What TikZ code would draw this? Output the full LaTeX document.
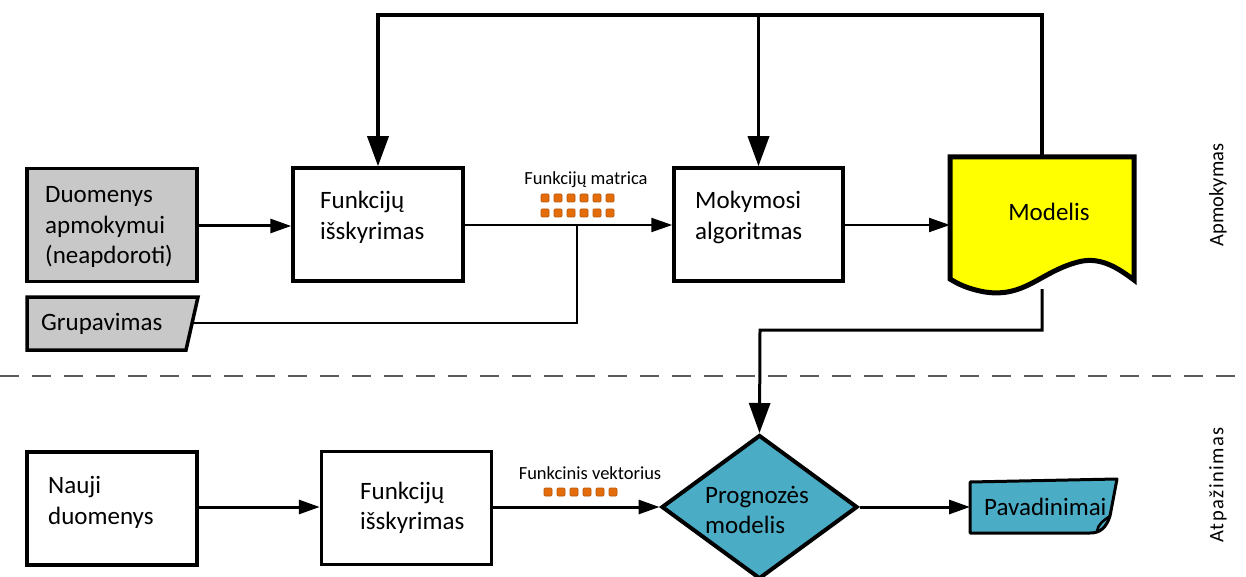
\documentclass[tikz,border=0pt]{standalone}
\usepackage{fontspec}
\setmainfont{Carlito}
\usetikzlibrary{arrows.meta,shapes.geometric}

\definecolor{boxgray}{HTML}{C8C8C8}
\definecolor{modelyellow}{HTML}{FFFF00}
\definecolor{predblue}{HTML}{4BACC6}
\definecolor{dotorange}{HTML}{E46C0A}
\definecolor{dotedge}{HTML}{B65708}
\definecolor{sepgray}{HTML}{5A5A5A}

\tikzset{
  box/.style={draw=black, line width=3.5pt, fill=white, minimum width=170pt, minimum height=113pt, inner sep=0pt},
  graybox/.style={box, fill=boxgray},
  txt/.style={anchor=west, align=left, inner sep=0pt, font=\fontsize{25}{30.5}\selectfont},
  smalltxt/.style={inner sep=0pt, font=\fontsize{18.5}{21}\selectfont},
  sidetxt/.style={inner sep=0pt, rotate=90, font=\fontsize{20.5}{24}\selectfont},
  thickline/.style={line width=3pt},
  thinline/.style={line width=2pt},
  bigtip/.style={-{Triangle[length=30pt,width=21pt]}},
  midtip/.style={-{Triangle[length=21pt,width=14pt]}},
  dot/.style={fill=dotorange, draw=dotedge, line width=0.6pt, rounded corners=1pt}
}

\begin{document}
\begin{tikzpicture}[x=1pt,y=-1pt]
\useasboundingbox (0,0) rectangle (1246,577);

% ---------------- training part ----------------
\node[graybox] (raw) at (112,225) {};
\node[txt] (rawtxt) at (45,227) {Duomenys\\apmokymui\\(neapdoroti)};

\node[box] (fx1) at (378,224.5) {};
\node[txt] (fx1txt) at (320,217.5) {Funkcijų\\išskyrimas};

\node[box, minimum width=169pt] (alg) at (758.5,224.5) {};
\node[txt] (algtxt) at (695,217.5) {Mokymosi\\algoritmas};

% grouping input (slanted right edge)
\draw[line width=3.5pt, fill=boxgray]
  (27,297) -- (198,297) -- (186,350) -- (27,350) -- cycle;
\node[txt] (grp) at (41,324) {Grupavimas};
\coordinate (grpR) at (192,323);

% model document shape
\draw[line width=5pt, fill=modelyellow, line join=miter]
  (950,157) -- (1134,157) -- (1134,280)
  .. controls (1118,268) and (1100,256) .. (1078,262)
  .. controls (1040,272) and (1025,298) .. (985,292)
  .. controls (968,289) and (958,284) .. (950,279) -- cycle;
\node[inner sep=0pt, font=\fontsize{25}{30}\selectfont] (model) at (1049,212) {Modelis};
\coordinate (mtop) at (1042,157);
\coordinate (mbot) at (1042,289);
\coordinate (mleft) at (950,225);

% feature matrix label and dots
\node[smalltxt] (fmlab) at (586,180) {Funkcijų matrica};
\foreach \i in {0,...,5}{
  \foreach \r in {198,213}{
    \filldraw[dot] ({545+13*\i-4},{\r-4}) rectangle ++(8,8);
  }
}

% connectors in the training part
\draw[thickline, midtip] (raw.east |- 0,226) -- (fx1.west |- 0,226);
\draw[thinline, midtip] (fx1.east |- 0,225) -- (alg.west |- 0,225);
\coordinate (join) at (577,225);
\draw[line width=2.5pt] (grpR) -| (join);
\draw[thinline, midtip] (alg.east |- 0,225) -- (mleft);

\coordinate (topbar) at (1042,15);
\draw[line width=3.5pt, bigtip] (mtop) -- (topbar) -| (fx1.north);
\draw[line width=3.5pt, bigtip] (alg.north |- topbar) -- (alg.north);

% separator between the two phases
\draw[sepgray, line width=2.5pt, dash pattern=on 19pt off 13pt] (0,376) -- (1246,376);
\node[sidetxt] (train) at (1218,195) {Apmokymas};
\node[sidetxt] (recog) at (1218,485) {\addfontfeature{LetterSpace=7}Atpažinimas};

% ---------------- recognition part ----------------
\node[box, line width=4pt] (new) at (112,508.5) {};
\node[txt] (newtxt) at (48,502.5) {Nauji\\duomenys};

\node[box] (fx2) at (406.5,508) {};
\node[txt] (fx2txt) at (360,508) {Funkcijų\\išskyrimas};

\node[diamond, draw=black, line width=4pt, fill=predblue, minimum width=196pt, minimum height=144pt, inner sep=0pt] (pred) at (759.5,507) {};
\node[txt] (predtxt) at (705,510) {Prognozės\\modelis};

% label output shape with curled corner
\draw[line width=3pt, fill=predblue, line join=round]
  (970,482) -- (1117,479) -- (1110,516)
  .. controls (1106,528) and (1100,533) .. (1090,533) -- (970,533) -- cycle;
\draw[line width=2.5pt] (1110,516) .. controls (1104,520) and (1098,524) .. (1097,531);
\node[txt] (labels) at (984,507) {Pavadinimai};
\coordinate (labL) at (970,507);

% feature vector label and dots
\node[smalltxt] (fvlab) at (590,473) {Funkcinis vektorius};
\foreach \i in {0,...,5}{
  \filldraw[dot] ({548+13*\i-4},{492-4}) rectangle ++(8,8);
}

% connectors in the recognition part
\draw[thickline, midtip] (new.east |- 0,507) -- (fx2.west |- 0,507);
\draw[thickline, midtip] (fx2.east |- 0,507) -- (pred.west);
\draw[thickline, midtip] (pred.east) -- (labL);

\coordinate (bend) at (760,330);
\draw[line width=3pt, bigtip] (mbot) |- (bend) -- (pred.north);

\end{tikzpicture}
\end{document}
